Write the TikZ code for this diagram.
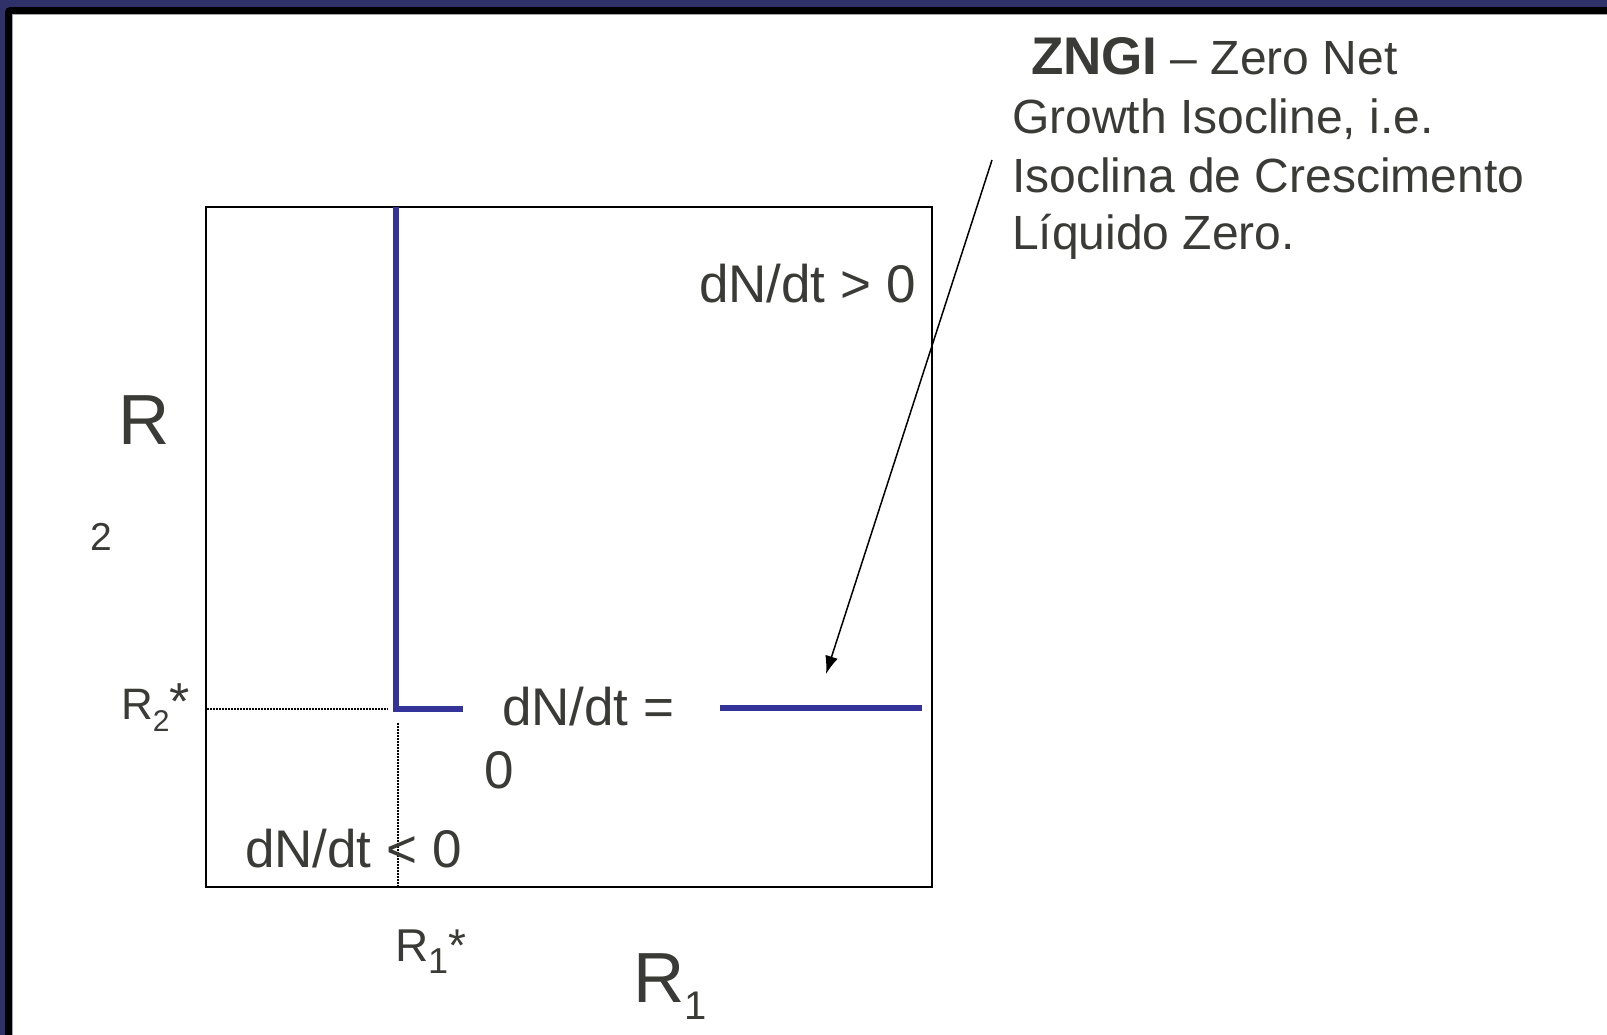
\documentclass[tikz,border=0pt]{standalone}
\usepackage{fontspec}
\setmainfont{Liberation Sans}
\usetikzlibrary{arrows.meta}
\definecolor{frameblue}{HTML}{31316A}
\definecolor{zngiblue}{HTML}{333399}
\definecolor{txt}{HTML}{3A3A36}
\newcommand{\myfs}[1]{\fontsize{#1}{#1}\selectfont}
\tikzset{
  lbl/.style={inner sep=0pt, outer sep=0pt, anchor=base west, text=txt},
  isoline/.style={draw=zngiblue, line width=5.5pt},
  guide/.style={draw=black, line width=1.2pt, dash pattern=on 1.5pt off 1.5pt},
  axisbox/.style={draw=black, line width=1.6pt},
  pointer/.style={draw=black, line width=1.5pt, -{Latex[length=18pt,width=13pt]}}
}
\begin{document}
\begin{tikzpicture}[x=1pt,y=-1pt]
\useasboundingbox (0,0) rectangle (1607,1034);
\clip (0,0) rectangle (1607,1034);
% frame
\fill[frameblue] (0,0) rectangle (1700,1100);
\fill[black, rounded corners=5pt] (5,7) rectangle (1700,1100);
\fill[gray!70] (12,14) rectangle (1700,1100);
\fill[white] (13,15) rectangle (1700,1100);

% axes box
\draw[axisbox] (206,207) rectangle (932,887);

% coordinates
\coordinate (vtop) at (396,207);
\coordinate (corner) at (396,709);
\coordinate (hend) at (463,709);
\coordinate (rs) at (720,708);
\coordinate (re) at (922,708);
\coordinate (g1) at (207,709);
\coordinate (g2) at (388,709);
\coordinate (g3) at (398,723);
\coordinate (g4) at (398,886);
\coordinate (arrS) at (992,160);
\coordinate (arrE) at (826,674);

% isocline
\draw[isoline, line cap=butt] (vtop) -- (corner) -- (hend);
\draw[isoline] (rs) -- (re);

% guides
\draw[guide] (g1) -- (g2);
\draw[guide] (g3) -- (g4);

% labels
\node[lbl] (Rbig) at (118,444) {\myfs{71}R};
\node[lbl] (Rtwo) at (90,550) {\myfs{39}2};
\node[lbl] (R2s) at (121,719) {\myfs{44}R\raisebox{-12pt}{\myfs{30}2}{\myfs{52}*}};
\node[lbl] (R1s) at (395,961) {\myfs{46}R\raisebox{-12pt}{\myfs{36}1}*};
\node[lbl] (R1big) at (633,1002) {\myfs{71}R\raisebox{-17pt}{\myfs{40}1}};

\node[lbl] (dpos) at (699,302) {\myfs{53}dN/dt > 0};
\node[lbl] (dzero) at (502,725) {\myfs{53}dN/dt =};
\node[lbl] (dzero2) at (484,788) {\myfs{53}0};
\node[lbl] (dneg) at (245,867) {\myfs{53}dN/dt < 0};

\node[lbl] (z1) at (1012,74) {\myfs{48}\hspace*{19pt}{\myfs{53}\textbf{ZNGI}} – Zero Net};
\node[lbl] (z2) at (1012,133) {\myfs{48}Growth Isocline, i.e.};
\node[lbl] (z3) at (1012,192) {\myfs{48}Isoclina de Crescimento};
\node[lbl] (z4) at (1012,249) {\myfs{48}Líquido Zero.};

% pointer
\draw[pointer] (arrS) -- (arrE);
\end{tikzpicture}
\end{document}
